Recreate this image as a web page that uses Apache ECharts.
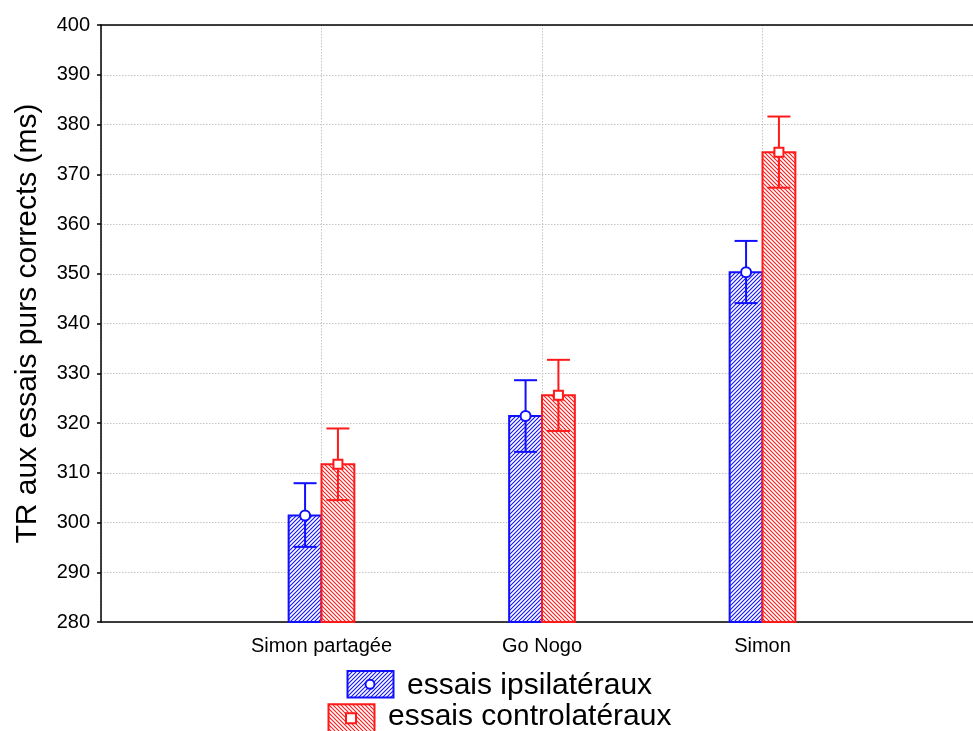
<!DOCTYPE html>
<html>
<head>
<meta charset="utf-8">
<script src="https://cdn.jsdelivr.net/npm/echarts@6/dist/echarts.min.js"></script>
<style>html,body{margin:0;padding:0;background:#fff;}#c{width:973px;height:731px;}</style>
</head>
<body>
<div id="c"></div>
<script>
// ---- data ----
var categories = ['Simon partagée', 'Go Nogo', 'Simon'];
var seriesNames = ['essais ipsilatéraux', 'essais controlatéraux'];
var ipsiMean = [301.4, 321.4, 350.3];
var ipsiLow  = [295.1, 314.2, 344.1];
var ipsiHigh = [307.9, 328.6, 356.6];
var contraMean = [311.7, 325.6, 374.4];
var contraLow  = [304.5, 318.4, 367.3];
var contraHigh = [318.9, 332.7, 381.6];
var yTicks = {min: 280, max: 400, step: 10};

function hatch(color, dir) {
  var s = 4, c = document.createElement('canvas');
  c.width = s; c.height = s;
  var g = c.getContext('2d');
  g.fillStyle = '#fff'; g.fillRect(0, 0, s, s);
  g.strokeStyle = color; g.lineWidth = 1.1;
  g.beginPath();
  if (dir > 0) {
    g.moveTo(-1, s + 1); g.lineTo(s + 1, -1);
    g.moveTo(-1, 1); g.lineTo(1, -1);
    g.moveTo(s - 1, s + 1); g.lineTo(s + 1, s - 1);
  } else {
    g.moveTo(-1, -1); g.lineTo(s + 1, s + 1);
    g.moveTo(s - 1, -1); g.lineTo(s + 1, 1);
    g.moveTo(-1, s - 1); g.lineTo(1, s + 1);
  }
  g.stroke();
  return c;
}
var BLUE = '#1010ff', RED = '#ff1a1a';
var bluePat = {image: hatch(BLUE, 1), repeat: 'repeat'};
var redPat = {image: hatch(RED, -1), repeat: 'repeat'};

function makeData(means, lows, highs) {
  return categories.map(function (c, i) { return [i + 1, means[i], lows[i], highs[i]]; });
}

function renderer(side, color, pat, marker) {
  return function (params, api) {
    var x = api.value(0), m = api.value(1), lo = api.value(2), hi = api.value(3);
    var unit = api.size([1, 0])[0];
    var w = unit * 0.149;
    var base = api.coord([x, yTicks.min]);
    var top = api.coord([x, m]);
    var x0 = side < 0 ? base[0] - w : base[0];
    var cx = x0 + w / 2;
    var yLo = api.coord([x, lo])[1], yHi = api.coord([x, hi])[1];
    var cap = 11.5;
    var children = [
      {type: 'rect', shape: {x: x0, y: top[1], width: w, height: base[1] - top[1]},
       style: {fill: pat, stroke: color, lineWidth: 2}},
      {type: 'line', shape: {x1: cx, y1: yLo, x2: cx, y2: yHi}, style: {stroke: color, lineWidth: 2}},
      {type: 'line', shape: {x1: cx - cap, y1: yLo, x2: cx + cap, y2: yLo}, style: {stroke: color, lineWidth: 2}},
      {type: 'line', shape: {x1: cx - cap, y1: yHi, x2: cx + cap, y2: yHi}, style: {stroke: color, lineWidth: 2}}
    ];
    if (marker === 'circle') {
      children.push({type: 'circle', shape: {cx: cx, cy: top[1], r: 5}, style: {fill: '#fff', stroke: color, lineWidth: 2}});
    } else {
      children.push({type: 'rect', shape: {x: cx - 4.5, y: top[1] - 4.5, width: 9, height: 9}, style: {fill: '#fff', stroke: color, lineWidth: 2}});
    }
    return {type: 'group', children: children};
  };
}

var chart = echarts.init(document.getElementById('c'), null, {renderer: 'canvas'});
var font = 'Liberation Sans, Arial, sans-serif';
chart.setOption({
  animation: false,
  grid: {left: 101, top: 25, right: -10, bottom: 109, containLabel: false, outerBoundsMode: 'none'},
  xAxis: [{
    type: 'value', min: 0, max: 4, interval: 1,
    axisLine: {show: true, onZero: false, lineStyle: {color: '#000', width: 1.5}},
    axisTick: {show: false},
    splitLine: {show: true, lineStyle: {color: '#c4c4c4', type: [1.5, 1.5], width: 1}},
    axisLabel: {color: '#000', fontSize: 20, fontFamily: font, margin: 14,
      formatter: function (v) { return categories[v - 1] || ''; }}
  }, {
    type: 'value', position: 'top', min: 0, max: 4,
    axisLine: {show: true, onZero: false, lineStyle: {color: '#000', width: 1.5}},
    axisTick: {show: false}, axisLabel: {show: false}, splitLine: {show: false}
  }],
  yAxis: {
    type: 'value', min: yTicks.min, max: yTicks.max, interval: yTicks.step,
    name: 'TR aux essais purs corrects (ms)', nameLocation: 'middle', nameGap: 58,
    nameTextStyle: {color: '#000', fontSize: 30, fontFamily: font},
    axisLine: {show: true, lineStyle: {color: '#000', width: 1.5}},
    axisTick: {show: true, length: 4, lineStyle: {color: '#000', width: 1.5}},
    axisLabel: {color: '#000', fontSize: 20, fontFamily: font, margin: 11},
    splitLine: {show: true, lineStyle: {color: '#c4c4c4', type: [1.5, 1.5], width: 1}}
  },
  series: [{
    type: 'custom', name: seriesNames[0], xAxisIndex: 0,
    renderItem: renderer(-1, BLUE, bluePat, 'circle'),
    data: makeData(ipsiMean, ipsiLow, ipsiHigh), encode: {x: 0, y: [1, 2, 3]}
  }, {
    type: 'custom', name: seriesNames[1], xAxisIndex: 0,
    renderItem: renderer(1, RED, redPat, 'square'),
    data: makeData(contraMean, contraLow, contraHigh), encode: {x: 0, y: [1, 2, 3]}
  }],
  graphic: [
    {type: 'rect', shape: {x: 347.5, y: 671, width: 46, height: 26.5}, style: {fill: bluePat, stroke: BLUE, lineWidth: 2}},
    {type: 'circle', shape: {cx: 370, cy: 684.3, r: 4.5}, style: {fill: '#fff', stroke: BLUE, lineWidth: 2}},
    {type: 'text', x: 407, y: 686, style: {text: seriesNames[0], fill: '#000', verticalAlign: 'middle', font: '30px Liberation Sans, Arial, sans-serif'}},
    {type: 'rect', shape: {x: 328.5, y: 704.3, width: 46, height: 32}, style: {fill: redPat, stroke: RED, lineWidth: 2}},
    {type: 'rect', shape: {x: 346, y: 713.3, width: 10, height: 10}, style: {fill: '#fff', stroke: RED, lineWidth: 2}},
    {type: 'text', x: 388, y: 717, style: {text: seriesNames[1], fill: '#000', verticalAlign: 'middle', font: '30px Liberation Sans, Arial, sans-serif'}}
  ]
});
</script>
</body>
</html>
